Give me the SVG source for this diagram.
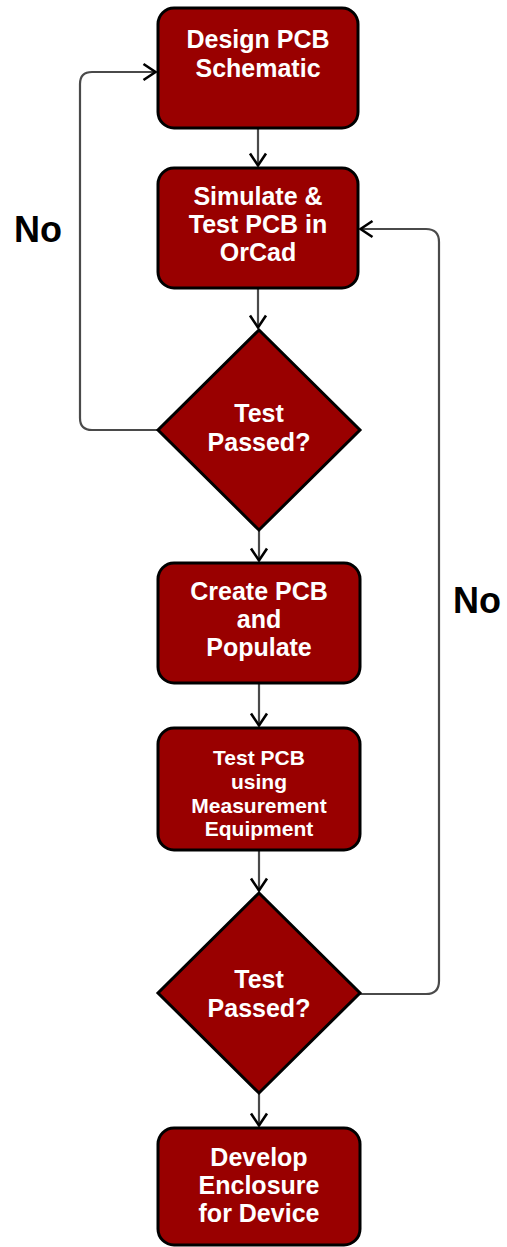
<svg xmlns="http://www.w3.org/2000/svg" width="507" height="1247" viewBox="0 0 507 1247">
<style>
.box{fill:#990000;stroke:#000;stroke-width:3}
.t{font-family:"Liberation Sans",Arial,sans-serif;font-weight:bold;fill:#fff;text-anchor:middle;font-size:25px}
.ts{font-size:21px}
.no{font-family:"Liberation Sans",Arial,sans-serif;font-weight:bold;fill:#000;font-size:36px}
.c{fill:none;stroke:#4a4a4a;stroke-width:2.2}
</style>
<defs>
<marker id="arr" viewBox="0 0 16 20" refX="14.5" refY="10" markerWidth="16" markerHeight="20" markerUnits="userSpaceOnUse" orient="auto">
<path d="M2,2 L14,10 L2,18" fill="none" stroke="#000" stroke-width="2.6"/>
</marker>
</defs>
<g id="connectors">
<path class="c" d="M258,129 V166" marker-end="url(#arr)"/>
<path class="c" d="M258,289 V328" marker-end="url(#arr)"/>
<path class="c" d="M259,531 V561" marker-end="url(#arr)"/>
<path class="c" d="M259,684 V726" marker-end="url(#arr)"/>
<path class="c" d="M259,851 V891" marker-end="url(#arr)"/>
<path class="c" d="M259,1094 V1126" marker-end="url(#arr)"/>
<path class="c" d="M158,430 H92 Q80,430 80,418 V84 Q80,72 92,72 H156" marker-end="url(#arr)"/>
<path class="c" d="M360,994 H426 Q439,994 439,981 V242 Q439,229 426,229 H360" marker-end="url(#arr)"/>
</g>
<g id="n1"><rect class="box" x="158" y="8" width="200" height="120" rx="16"/>
<text class="t" x="258" y="48">Design PCB</text><text class="t" x="258" y="77">Schematic</text></g>
<g id="n2"><rect class="box" x="158" y="168" width="200" height="120" rx="16"/>
<text class="t" x="258" y="205">Simulate &amp;</text><text class="t" x="258" y="233">Test PCB in</text><text class="t" x="258" y="261">OrCad</text></g>
<g id="d1"><polygon class="box" points="259,330 360,430 259,530 158,430"/>
<text class="t" x="259" y="422">Test</text><text class="t" x="259" y="451">Passed?</text></g>
<g id="n3"><rect class="box" x="158" y="563" width="202" height="120" rx="16"/>
<text class="t" x="259" y="600">Create PCB</text><text class="t" x="259" y="628">and</text><text class="t" x="259" y="656">Populate</text></g>
<g id="n4"><rect class="box" x="158" y="728" width="202" height="122" rx="16"/>
<text class="t ts" x="259" y="765">Test PCB</text><text class="t ts" x="259" y="789">using</text><text class="t ts" x="259" y="813">Measurement</text><text class="t ts" x="259" y="836">Equipment</text></g>
<g id="d2"><polygon class="box" points="259,893 360,993 259,1093 158,993"/>
<text class="t" x="259" y="988">Test</text><text class="t" x="259" y="1017">Passed?</text></g>
<g id="n5"><rect class="box" x="158" y="1128" width="202" height="117" rx="16"/>
<text class="t" x="259" y="1166">Develop</text><text class="t" x="259" y="1194">Enclosure</text><text class="t" x="259" y="1222">for Device</text></g>
<g id="labels">
<text class="no" x="14" y="242">No</text>
<text class="no" x="453" y="613">No</text>
</g>
</svg>
